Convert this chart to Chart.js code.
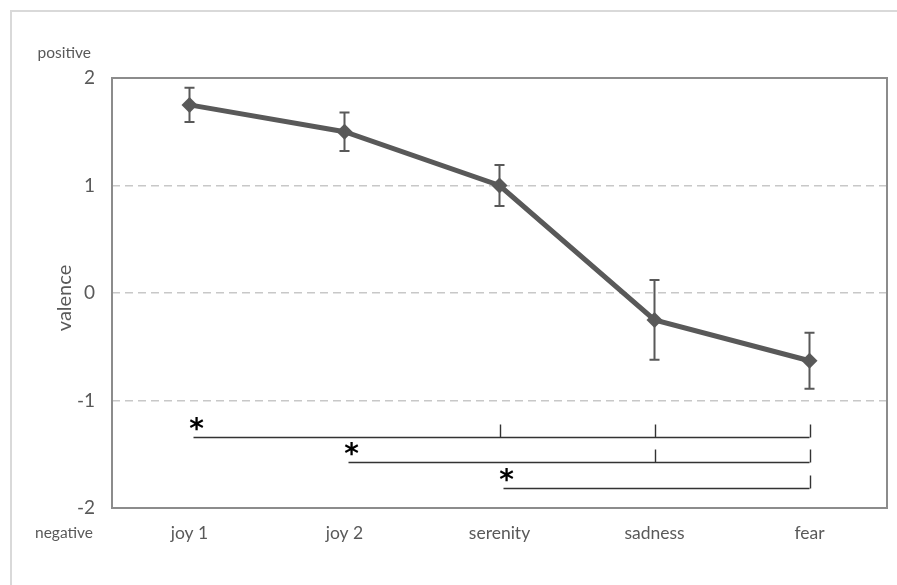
<!DOCTYPE html>
<html>
<head>
<meta charset="utf-8">
<script src="https://cdn.jsdelivr.net/npm/chart.js@4/dist/chart.umd.min.js"></script>
<style>
  html, body { margin: 0; padding: 0; background: #fff; }
</style>
</head>
<body>
<canvas id="chart" width="897" height="585"></canvas>
<script>
// chart values
const categories = ['joy 1', 'joy 2', 'serenity', 'sadness', 'fear'];
const valence = [1.75, 1.5, 1.0, -0.25, -0.63];
const errorBars = [0.16, 0.18, 0.19, 0.37, 0.26];

// significance brackets: start category, level on the valence axis, categories with a tick
const bracketFrom = [0, 1, 2];
const bracketLevel = [-1.34, -1.57, -1.81];
const bracketTicks = [[2, 3, 4], [3, 4], [4]];

const textColor = '#595959';
const fontFamily = 'Lato, Calibri, sans-serif';

// outer frame, plot box, side labels
const framePlugin = {
    id: 'frame',
    beforeDraw(chart) {
        const ctx = chart.ctx;
        ctx.save();
        ctx.strokeStyle = '#d9d9d9';
        ctx.lineWidth = 2;
        ctx.beginPath();
        ctx.moveTo(11, 585);
        ctx.lineTo(11, 11);
        ctx.lineTo(897, 11);
        ctx.stroke();
        ctx.restore();
    },
    afterDraw(chart) {
        const ctx = chart.ctx;
        const area = chart.chartArea;
        ctx.save();
        ctx.strokeStyle = '#8c8c8c';
        ctx.lineWidth = 2;
        ctx.strokeRect(area.left, area.top, area.right - area.left, area.bottom - area.top);

        ctx.fillStyle = textColor;
        ctx.font = '15.5px ' + fontFamily;
        ctx.textAlign = 'right';
        ctx.textBaseline = 'middle';
        ctx.fillText('positive', 91, 53);
        ctx.fillText('negative', 93, 533);

        ctx.font = '20px ' + fontFamily;
        ctx.translate(65, 298);
        ctx.rotate(-Math.PI / 2);
        ctx.textAlign = 'center';
        ctx.fillText('valence', 0, 0);
        ctx.restore();
    }
};

// error bars + significance brackets
const annotatePlugin = {
    id: 'annotate',
    afterDatasetsDraw(chart) {
        const ctx = chart.ctx;
        const x = chart.scales.x;
        const y = chart.scales.y;
        ctx.save();

        ctx.strokeStyle = '#595959';
        ctx.lineWidth = 2;
        valence.forEach(function(v, i) {
            const px = x.getPixelForValue(i);
            const top = y.getPixelForValue(v + errorBars[i]);
            const bot = y.getPixelForValue(v - errorBars[i]);
            ctx.beginPath();
            ctx.moveTo(px, top);
            ctx.lineTo(px, bot);
            ctx.moveTo(px - 5, top);
            ctx.lineTo(px + 5, top);
            ctx.moveTo(px - 5, bot);
            ctx.lineTo(px + 5, bot);
            ctx.stroke();
        });

        ctx.strokeStyle = '#333333';
        ctx.lineWidth = 1.4;
        ctx.fillStyle = '#000';
        ctx.font = 'bold 28px "DejaVu Sans", sans-serif';
        ctx.textAlign = 'center';
        ctx.textBaseline = 'middle';
        bracketFrom.forEach(function(from, b) {
            const py = Math.round(y.getPixelForValue(bracketLevel[b])) + 0.5;
            const x0 = x.getPixelForValue(from) + 4;
            const x1 = x.getPixelForValue(categories.length - 1);
            ctx.beginPath();
            ctx.moveTo(x0, py);
            ctx.lineTo(x1, py);
            bracketTicks[b].forEach(function(t) {
                const tx = Math.round(x.getPixelForValue(t)) + 0.5;
                ctx.moveTo(tx, py);
                ctx.lineTo(tx, py - 13);
            });
            ctx.stroke();
            ctx.fillText('*', x0 + 3, py - 7);
        });
        ctx.restore();
    }
};

new Chart(document.getElementById('chart'), {
    type: 'line',
    data: {
        labels: categories,
        datasets: [{
            label: 'valence',
            data: valence,
            borderColor: '#595959',
            borderWidth: 5,
            pointStyle: 'rectRot',
            pointRadius: 8,
            pointBackgroundColor: '#595959',
            pointBorderColor: '#595959',
            pointBorderWidth: 0,
            fill: false,
            tension: 0
        }]
    },
    options: {
        responsive: false,
        animation: false,
        layout: { padding: { left: 0, right: 10, top: 78, bottom: 0 } },
        plugins: {
            legend: { display: false },
            tooltip: { enabled: false }
        },
        scales: {
            x: {
                offset: true,
                grid: { display: false, drawTicks: false },
                border: { display: false },
                ticks: { color: textColor, font: { family: fontFamily, size: 17.5 }, padding: 15 },
                afterFit(scale) { scale.height = 77; }
            },
            y: {
                min: -2,
                max: 2,
                grid: {
                    drawTicks: false,
                    color: function(c) {
                        return Math.abs(c.tick.value) === 2 ? 'rgba(0,0,0,0)' : '#c8c8c8';
                    },
                    lineWidth: 1.5
                },
                border: { display: false, dash: [8, 5] },
                ticks: {
                    stepSize: 1,
                    color: textColor,
                    font: { family: fontFamily, size: 19 },
                    padding: 17
                },
                afterFit(scale) { scale.width = 112; }
            }
        }
    },
    plugins: [framePlugin, annotatePlugin]
});
</script>
</body>
</html>
